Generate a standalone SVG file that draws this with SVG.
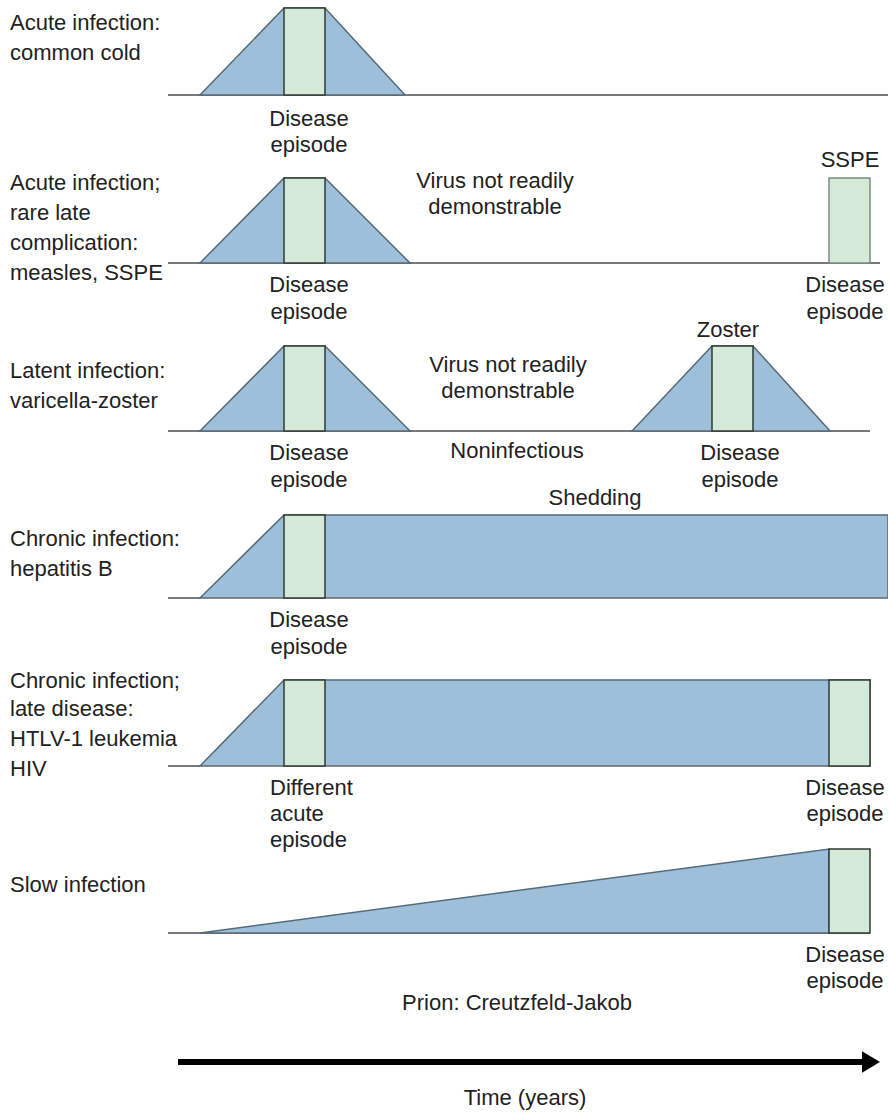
<svg xmlns="http://www.w3.org/2000/svg" width="888" height="1115" viewBox="0 0 888 1115">
<defs>
<style>
text{font-family:"Liberation Sans","Noto Sans",Arial,sans-serif;font-size:22px;fill:#222}
.c{text-anchor:middle}
.base{stroke:#7a7a7a;stroke-width:2;fill:none}
.blue{fill:#9dbfd9;stroke:#5a6a75;stroke-width:1.5}
.green{fill:#d5e9d9;stroke:#2f3a36;stroke-width:1.5}
</style>
<marker id="ah" markerWidth="4" markerHeight="4" refX="1" refY="2" orient="auto" markerUnits="strokeWidth">
<path d="M0,0.2 L3,2 L0,3.8 Z" fill="#000"/>
</marker>
</defs>
<rect width="888" height="1115" fill="#fff"/>

<g id="row1">
<line class="base" x1="168" y1="95" x2="888" y2="95"/>
<polygon class="blue" points="200,95 284,8 325,8 405,95"/>
<rect class="green" x="284" y="8" width="41" height="87"/>
<text x="10" y="30">Acute infection:</text>
<text x="10" y="60">common cold</text>
<text class="c" x="309" y="126">Disease</text>
<text class="c" x="309" y="152">episode</text>
</g>

<g id="row2">
<line class="base" x1="168" y1="263" x2="880" y2="263"/>
<polygon class="blue" points="200,263 284,178 325,178 410,263"/>
<rect class="green" x="284" y="178" width="41" height="85"/>
<rect class="green" x="829" y="178" width="41" height="85" style="stroke:#7a8a80"/>
<text x="10" y="190">Acute infection;</text>
<text x="10" y="220">rare late</text>
<text x="10" y="250">complication:</text>
<text x="10" y="280">measles, SSPE</text>
<text class="c" x="850" y="167">SSPE</text>
<text class="c" x="495" y="188">Virus not readily</text>
<text class="c" x="495" y="214">demonstrable</text>
<text class="c" x="309" y="292">Disease</text>
<text class="c" x="309" y="319">episode</text>
<text class="c" x="845" y="292">Disease</text>
<text class="c" x="845" y="319">episode</text>
</g>

<g id="row3">
<line class="base" x1="168" y1="431" x2="870" y2="431"/>
<polygon class="blue" points="200,431 284,346 325,346 410,431"/>
<rect class="green" x="284" y="346" width="41" height="85"/>
<polygon class="blue" points="632,431 712,346 753,346 830,431"/>
<rect class="green" x="712" y="346" width="41" height="85"/>
<text x="10" y="378">Latent infection:</text>
<text x="10" y="408">varicella-zoster</text>
<text class="c" x="728" y="337">Zoster</text>
<text class="c" x="508" y="372">Virus not readily</text>
<text class="c" x="508" y="398">demonstrable</text>
<text class="c" x="517" y="458">Noninfectious</text>
<text class="c" x="309" y="460">Disease</text>
<text class="c" x="309" y="487">episode</text>
<text class="c" x="740" y="460">Disease</text>
<text class="c" x="740" y="487">episode</text>
<text class="c" x="595" y="505">Shedding</text>
</g>

<g id="row4">
<line class="base" x1="168" y1="598" x2="200" y2="598"/>
<polygon class="blue" points="200,598 284,515 888,515 888,598"/>
<rect class="green" x="284" y="515" width="41" height="83"/>
<text x="10" y="546">Chronic infection:</text>
<text x="10" y="576">hepatitis B</text>
<text class="c" x="309" y="627">Disease</text>
<text class="c" x="309" y="654">episode</text>
</g>

<g id="row5">
<line class="base" x1="168" y1="766" x2="200" y2="766"/>
<polygon class="blue" points="200,766 284,680 870,680 870,766"/>
<rect class="green" x="284" y="680" width="41" height="86"/>
<rect class="green" x="829" y="680" width="41" height="86"/>
<text x="10" y="688">Chronic infection;</text>
<text x="10" y="716">late disease:</text>
<text x="10" y="746">HTLV-1 leukemia</text>
<text x="10" y="776">HIV</text>
<text x="270" y="795">Different</text>
<text x="270" y="821">acute</text>
<text x="270" y="847">episode</text>
<text class="c" x="845" y="795">Disease</text>
<text class="c" x="845" y="821">episode</text>
</g>

<g id="row6">
<line class="base" x1="168" y1="933" x2="870" y2="933"/>
<polygon class="blue" points="200,933 829,849 829,933"/>
<rect class="green" x="829" y="849" width="41" height="84"/>
<text x="10" y="892">Slow infection</text>
<text class="c" x="845" y="962">Disease</text>
<text class="c" x="845" y="988">episode</text>
<text class="c" x="517" y="1010">Prion: Creutzfeld-Jakob</text>
</g>

<g id="connectors">
<line x1="178" y1="1062" x2="868" y2="1062" stroke="#000" stroke-width="6" marker-end="url(#ah)"/>
</g>
<text class="c" x="525" y="1105">Time (years)</text>
</svg>
